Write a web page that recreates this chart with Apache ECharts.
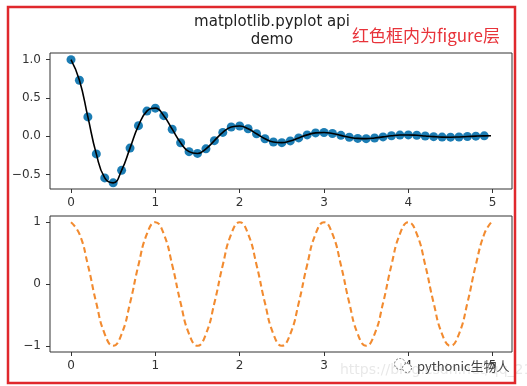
<!DOCTYPE html>
<html><head><meta charset="utf-8">
<script src="https://cdn.jsdelivr.net/npm/echarts@6/dist/echarts.min.js"></script>
<style>html,body{margin:0;padding:0;background:#fff}#c{width:527px;height:386px}</style>
</head><body><div id="c"></div>
<script>
// sample times of the scatter points
const t = [0,0.1,0.2,0.3,0.4,0.5,0.6,0.7,0.8,0.9,
           1,1.1,1.2,1.3,1.4,1.5,1.6,1.7,1.8,1.9,
           2,2.1,2.2,2.3,2.4,2.5,2.6,2.7,2.8,2.9,
           3,3.1,3.2,3.3,3.4,3.5,3.6,3.7,3.8,3.9,
           4,4.1,4.2,4.3,4.4,4.5,4.6,4.7,4.8,4.9];
// damped oscillation (top panel)
const dampedY = [1,0.7320,0.2530,-0.2289,-0.5423,-0.6065,-0.4440,-0.1535,0.1389,0.3289,
                 0.3679,0.2693,0.0931,-0.0842,-0.1995,-0.2231,-0.1633,-0.0565,0.0511,0.1210,
                 0.1353,0.0991,0.0342,-0.0310,-0.0734,-0.0821,-0.0601,-0.0208,0.0188,0.0445,
                 0.0498,0.0364,0.0126,-0.0114,-0.0270,-0.0302,-0.0221,-0.0076,0.0069,0.0164,
                 0.0183,0.0134,0.0046,-0.0042,-0.0099,-0.0111,-0.0081,-0.0028,0.0025,0.0060];
// cosine (bottom panel)
const cosY = [1,0.809,0.309,-0.309,-0.809,-1,-0.809,-0.309,0.309,0.809,
              1,0.809,0.309,-0.309,-0.809,-1,-0.809,-0.309,0.309,0.809,
              1,0.809,0.309,-0.309,-0.809,-1,-0.809,-0.309,0.309,0.809,
              1,0.809,0.309,-0.309,-0.809,-1,-0.809,-0.309,0.309,0.809,
              1,0.809,0.309,-0.309,-0.809,-1,-0.809,-0.309,0.309,0.809];
// curve end point
const tEnd = 4.98, dampedEnd = 0.0068, cosEnd = 0.992;
// ticks
const xTicks = [0,1,2,3,4,5];
const xTickLabels = ['0','1','2','3','4','5'];
const topYTicks = [-0.5,0,0.5,1];
const topYTickLabels = ['\u22120.5','0.0','0.5','1.0'];
const botYTicks = [-1,0,1];
const botYTickLabels = ['\u22121','0','1'];
const titleText = 'matplotlib.pyplot api\ndemo';
const noteText = '红色框内为figure层';

const FONT = 'DejaVu Sans';
const axisCol = '#333';
function xAxisCfg(gi) {
  return {
    type: 'value', gridIndex: gi, min: -0.249, max: 5.229, position: 'bottom',
    axisLine: { show: false, onZero: false },
    splitLine: { show: false },
    axisTick: { show: true, inside: false, length: 4, customValues: xTicks, lineStyle: { color: axisCol, width: 1 } },
    axisLabel: { customValues: xTicks, margin: 8, fontFamily: FONT, fontSize: 12, color: '#333',
      formatter: v => xTickLabels[xTicks.indexOf(v)] }
  };
}
function yAxisCfg(gi, mn, mx, ticks, labels) {
  return {
    type: 'value', gridIndex: gi, min: mn, max: mx, position: 'left',
    axisLine: { show: false, onZero: false },
    splitLine: { show: false },
    axisTick: { show: true, inside: false, length: 4, customValues: ticks, lineStyle: { color: axisCol, width: 1 } },
    axisLabel: { customValues: ticks, margin: 9, fontFamily: FONT, fontSize: 12, color: '#333',
      formatter: v => labels[ticks.indexOf(v)] }
  };
}

const chart = echarts.init(document.getElementById('c'), null, { renderer: 'canvas' });
chart.setOption({
  animation: false,
  backgroundColor: '#fff',
  title: {
    text: titleText, left: 272, top: 13, textAlign: 'center', padding: 0,
    textStyle: { fontFamily: FONT, fontSize: 15, fontWeight: 'normal', color: '#222', lineHeight: 18 }
  },
  grid: [
    { left: 50, top: 53, width: 462, height: 136, show: true, borderColor: axisCol, borderWidth: 1, backgroundColor: 'transparent' },
    { left: 50, top: 216, width: 462, height: 136, show: true, borderColor: axisCol, borderWidth: 1, backgroundColor: 'transparent' }
  ],
  xAxis: [xAxisCfg(0), xAxisCfg(1)],
  yAxis: [
    yAxisCfg(0, -0.687, 1.087, topYTicks, topYTickLabels),
    yAxisCfg(1, -1.1, 1.1, botYTicks, botYTickLabels)
  ],
  series: [
    { type: 'scatter', xAxisIndex: 0, yAxisIndex: 0, symbolSize: 9, z: 2,
      itemStyle: { color: '#1c7db4', opacity: 1 },
      data: t.map((x, i) => [x, dampedY[i]]) },
    { type: 'line', xAxisIndex: 0, yAxisIndex: 0, smooth: 0.5, showSymbol: false, symbol: 'none', z: 3,
      lineStyle: { color: '#000', width: 1.6 },
      data: t.map((x, i) => [x, dampedY[i]]).concat([[tEnd, dampedEnd]]) },
    { type: 'line', xAxisIndex: 1, yAxisIndex: 1, smooth: 0.5, showSymbol: false, symbol: 'none',
      lineStyle: { color: '#f28b30', width: 2.1, type: [6, 3.5] },
      data: t.map((x, i) => [x, cosY[i]]).concat([[tEnd, cosEnd]]) }
  ],
  graphic: [
    { type: 'rect', shape: { x: 8, y: 7, width: 507, height: 376 }, z: 100,
      style: { fill: null, stroke: '#e0282c', lineWidth: 2.5 } },
    { type: 'text', x: 352, y: 36, z: 100,
      style: { text: noteText, fill: '#e8333a', font: '17px "Noto Sans CJK SC"', textVerticalAlign: 'middle' } },
    { type: 'text', x: 340, y: 370, z: 1,
      style: { text: 'https://blog.csdn.net/qq_21478261', fill: 'rgba(190,190,190,0.35)', font: '14px "DejaVu Sans"', textVerticalAlign: 'middle' } },
    { type: 'circle', shape: { cx: 400, cy: 364, r: 5.5 }, z: 100,
      style: { fill: 'none', stroke: '#777', lineWidth: 1, lineDash: [2, 1.5] } },
    { type: 'circle', shape: { cx: 407, cy: 368, r: 4.5 }, z: 100,
      style: { fill: '#fff', stroke: '#777', lineWidth: 1, lineDash: [2, 1.5] } },
    { type: 'text', x: 417, y: 366, z: 100,
      style: { text: 'pythonic生物人', fill: '#444', font: '13px "Noto Sans CJK SC"', textVerticalAlign: 'middle' } }
  ]
});
</script>
</body></html>
